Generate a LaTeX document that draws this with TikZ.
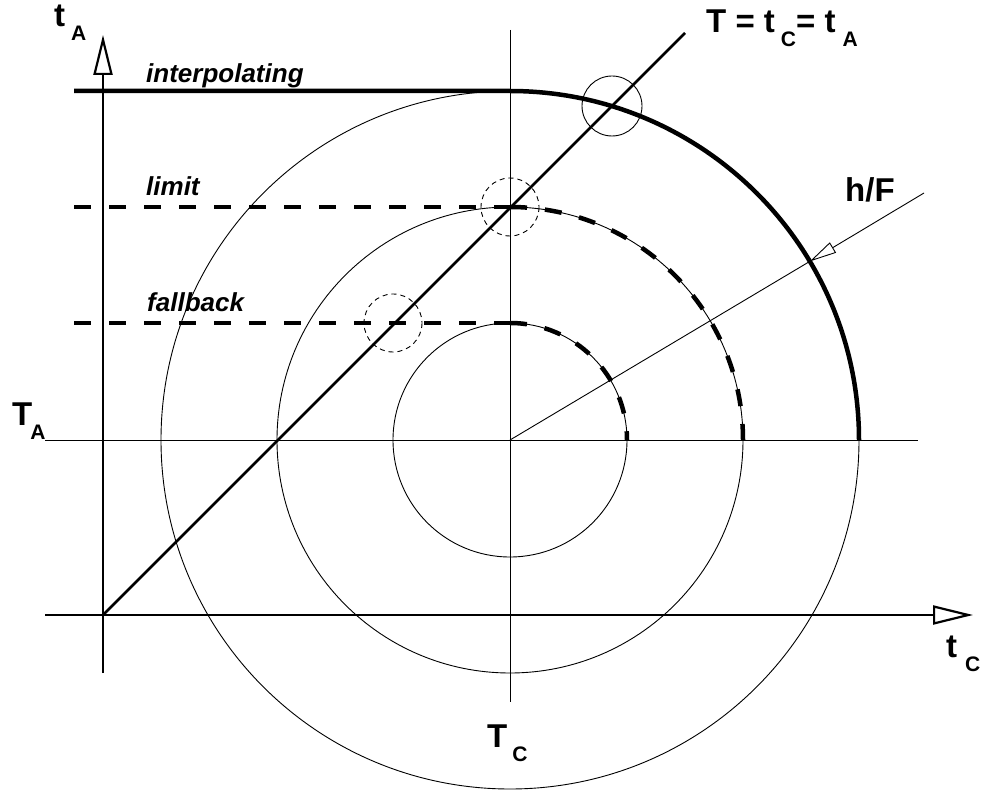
\documentclass[tikz,border=0pt]{standalone}
\usepackage{fontspec}
\setmainfont{Liberation Sans}
\usetikzlibrary{arrows.meta}
\newcommand\lowsub[2][6pt]{\hspace{#1}\raisebox{-14pt}{\fontsize{21}{24}\selectfont #2}}
\begin{document}
\begin{tikzpicture}[x=1pt,y=-1pt,
  lbl/.style={inner sep=0pt,anchor=base west,font=\fontsize{33}{38}\selectfont\bfseries},
  ilbl/.style={inner sep=0pt,anchor=base west,font=\fontsize{26}{30}\selectfont\bfseries\itshape},
  thinline/.style={line width=0.9pt},
  axisline/.style={line width=2.6pt,-{Triangle[length=40pt,width=19pt,fill=white,line width=2.2pt]}},
  thickline/.style={line width=4.5pt},
  thickdash/.style={line width=4.5pt,dash pattern=on 17pt off 18pt},
  markc/.style={line width=0.9pt,dash pattern=on 5pt off 4pt},
  diag/.style={line width=2.8pt}]
\useasboundingbox (0,0) rectangle (986,794);
\coordinate (O) at (103,615);
\coordinate (C) at (510,440);
% thin full circles
\draw[thinline] (C) circle[radius=117];
\draw[thinline] (C) circle[radius=233];
\draw[thinline] (C) circle[radius=349];
% thin reference lines
\coordinate (tal) at (45,440);
\coordinate (tar) at (918,440);
\draw[thinline] (tal) -- (tar);
\coordinate (tct) at (510,30);
\coordinate (tcb) at (510,702);
\draw[thinline] (tct) -- (tcb);
% axes
\coordinate (xs) at (45,615);
\coordinate (xe) at (973,615);
\coordinate (ys) at (103,673);
\coordinate (ye) at (103,35);
\draw[axisline] (xs) -- (xe);
\draw[axisline] (ys) -- (ye);
% diagonal
\coordinate (de) at (685,33);
\draw[diag] (O) -- (de);
% interpolating
\coordinate (i0) at (74,91);
\coordinate (i1) at (510,91);
\draw[thickline] (i0) -- (i1) arc[start angle=-90,end angle=0,radius=349];
% limit
\coordinate (l0) at (74,207);
\coordinate (l1) at (510,207);
\draw[thickdash] (l0) -- (l1);
\draw[thickdash] (l1) arc[start angle=-90,end angle=0,radius=233];
% fallback
\coordinate (f0) at (74,323);
\coordinate (f1) at (510,323);
\draw[thickdash] (f0) -- (f1);
\draw[thickdash] (f1) arc[start angle=-90,end angle=0,radius=117];
% marker circles
\coordinate (m1) at (612,106);
\coordinate (m2) at (510,207);
\coordinate (m3) at (393,323);
\draw[thinline] (m1) circle[radius=30];
\draw[markc] (m2) circle[radius=29];
\draw[markc] (m3) circle[radius=29];
% h/F
\coordinate (hf) at (924,193);
\coordinate (hfc) at (809.8,261.4);
\draw[thinline] (hfc) -- (C);
\draw[thinline,-{Triangle[length=27pt,width=12pt,fill=white,line width=0.9pt]}] (hf) -- (hfc);
% labels
\node[lbl] (ltA) at (54,27) {t\lowsub[6pt]{A}};
\node[lbl] (leq) at (706,33) {T = t\lowsub[6pt]{C}= t\lowsub[7pt]{A}};
\node[ilbl] (lint) at (146,83) {interpolating};
\node[ilbl] (llim) at (146,196) {limit};
\node[ilbl] (lfal) at (147,312) {fallback};
\node[lbl] (lhf) at (845,202) {h/F};
\node[lbl] (lTA) at (12,425) {T\lowsub[-2pt]{A}};
\node[lbl] (ltC) at (946,657) {t\lowsub[8pt]{C}};
\node[lbl] (lTC) at (487,747) {T\lowsub[5pt]{C}};
\end{tikzpicture}
\end{document}
